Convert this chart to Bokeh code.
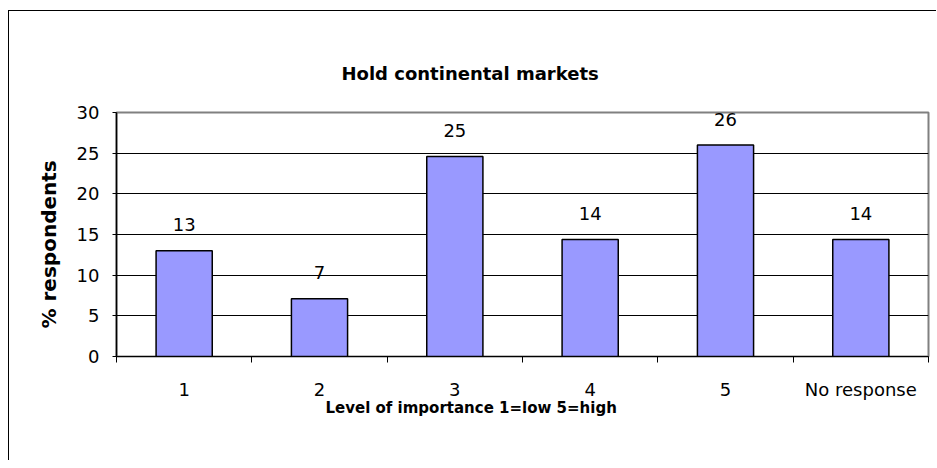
from bokeh.plotting import figure
from bokeh.models import FixedTicker, Title, Range1d, LinearAxis, Grid
from bokeh.core.properties import value
from bokeh.embed import file_html
from bokeh.resources import INLINE

categories = ["1", "2", "3", "4", "5", "No response"]
values = [13.0, 7.1, 24.6, 14.4, 26.0, 14.4]
value_labels = ["13", "7", "25", "14", "26", "14"]
y_ticks = [0, 5, 10, 15, 20, 25, 30]
grid_ticks = [5, 10, 15, 20, 25]
title_text = "Hold continental markets"
x_label = "Level of importance 1=low 5=high"
y_label = "% respondents"

FONT = "DejaVu Sans"
n = len(categories)
centers = [i + 0.5 for i in range(n)]
bounds = list(range(n + 1))

p = figure(width=936, height=460, output_backend="svg", toolbar_location=None,
           x_range=Range1d(0, n), y_range=Range1d(0, 30),
           min_border_left=116, min_border_right=8, min_border_top=112, min_border_bottom=104,
           x_axis_type=None, y_axis_type=None)
p.border_fill_color = None
p.background_fill_color = "white"
p.outline_line_color = "#808080"
p.outline_line_width = 2
p.styles = {"background": "linear-gradient(#000,#000) 8px 10px / 1px 100% no-repeat, "
                          "linear-gradient(#000,#000) 8px 10px / 100% 1px no-repeat, #fff"}

xa = LinearAxis(ticker=FixedTicker(ticks=centers, minor_ticks=bounds))
xa.major_label_overrides = {c: lab for c, lab in zip(centers, categories)}
xa.major_tick_out = 0
xa.major_tick_in = 0
xa.minor_tick_out = 6
xa.minor_tick_in = 0
xa.minor_tick_line_color = "black"
xa.axis_line_color = "black"
xa.axis_line_width = 1
xa.major_label_standoff = 16
xa.major_label_text_font = FONT
xa.major_label_text_font_size = "18px"
xa.major_label_text_color = "black"
p.add_layout(xa, "below")

ya = LinearAxis(ticker=FixedTicker(ticks=y_ticks))
ya.major_tick_out = 4
ya.major_tick_in = 0
ya.minor_tick_out = 0
ya.minor_tick_in = 0
ya.axis_line_color = "black"
ya.axis_line_width = 1.5
ya.major_label_standoff = 13
ya.major_label_text_font = FONT
ya.major_label_text_font_size = "18px"
ya.major_label_text_color = "black"
p.add_layout(ya, "left")

p.add_layout(Grid(dimension=1, ticker=FixedTicker(ticks=grid_ticks),
                  grid_line_color="black", grid_line_width=1))

p.vbar(x=centers, top=values, bottom=0, width=0.415,
       fill_color="#9999FF", line_color="black", line_width=1.5)
p.text(x=centers, y=values, text=value_labels, text_align="center",
       text_baseline="alphabetic", y_offset=-26,
       text_font=value(FONT), text_font_size="18px", text_color="black")

p.title = Title(text=title_text, align="left", offset=225, standoff=58,
                text_font=FONT, text_font_size="18px", text_font_style="bold",
                text_color="black")
p.add_layout(Title(text=x_label, align="left", offset=209, standoff=-11,
                   text_font=FONT, text_font_size="15px", text_font_style="bold",
                   text_color="black"), "below")
p.add_layout(Title(text=y_label, align="left", offset=28, standoff=25,
                   text_font=FONT, text_font_size="20px", text_font_style="bold",
                   text_color="black"), "left")

open("out.html", "w").write(file_html(p, INLINE))
